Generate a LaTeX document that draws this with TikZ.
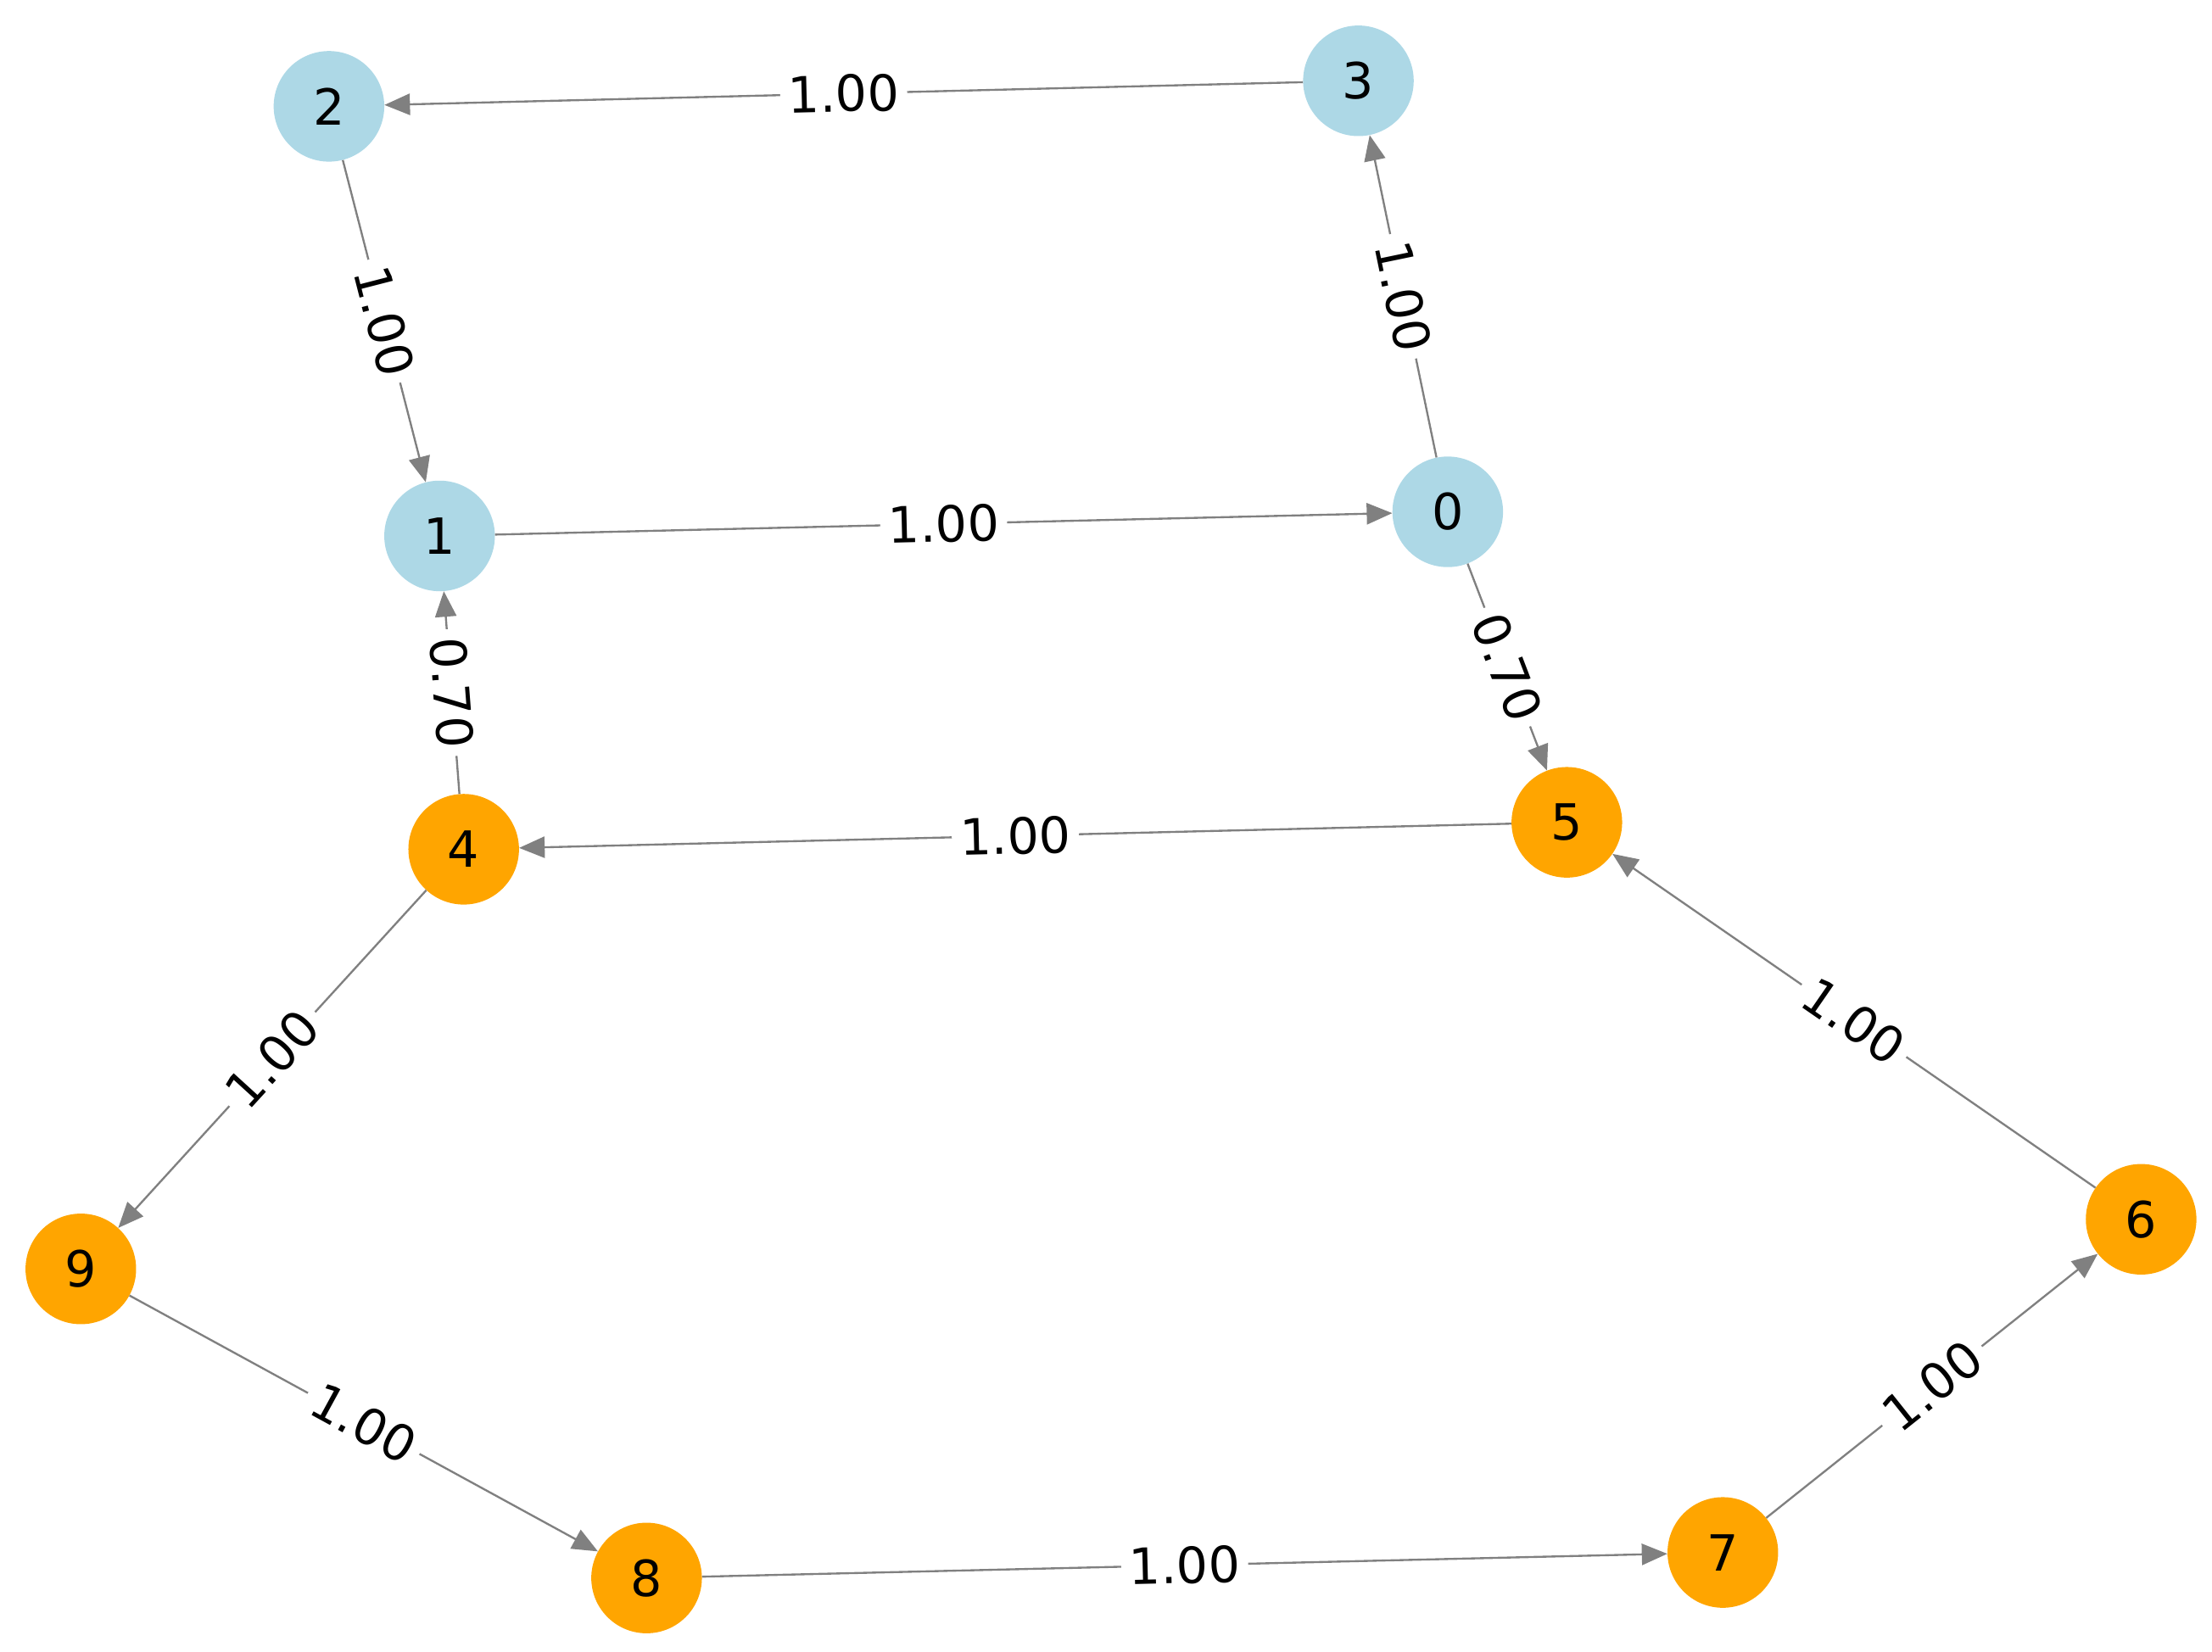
\documentclass[tikz,border=0pt]{standalone}
\usepackage{fontspec}
\setmainfont{DejaVu Sans}
\usetikzlibrary{arrows.meta}
\begin{document}
\begin{tikzpicture}[x=0.05cm,y=-0.05cm,
 nd/.style={circle,minimum size=3.9cm,inner sep=0pt,font=\fontsize{50}{58}\selectfont},
 blue/.style={nd,fill={rgb,255:red,173;green,216;blue,230}},
 org/.style={nd,fill={rgb,255:red,255;green,165;blue,0}},
 ed/.style={draw=gray,line width=2pt,-{Triangle[length=0.9cm,width=0.75cm,fill=gray]}},
 lb/.style={midway,sloped,fill=white,inner sep=8pt,font=\fontsize{50}{58}\selectfont}]
\useasboundingbox (0,0) rectangle (1560,1165);
\node[blue] (n0) at (1021,361) {0};
\node[blue] (n1) at (310,378) {1};
\node[blue] (n2) at (232,75) {2};
\node[blue] (n3) at (958,57) {3};
\node[org] (n4) at (327,599) {4};
\node[org] (n5) at (1105,580) {5};
\node[org] (n6) at (1510,860) {6};
\node[org] (n7) at (1215,1095) {7};
\node[org] (n8) at (456,1113) {8};
\node[org] (n9) at (57,895) {9};
\draw[ed] (n3) -- node[lb]{1.00} (n2);
\draw[ed] (n2) -- node[lb]{1.00} (n1);
\draw[ed] (n1) -- node[lb]{1.00} (n0);
\draw[ed] (n0) -- node[lb]{1.00} (n3);
\draw[ed] (n0) -- node[lb]{0.70} (n5);
\draw[ed] (n4) -- node[lb]{0.70} (n1);
\draw[ed] (n5) -- node[lb]{1.00} (n4);
\draw[ed] (n4) -- node[lb]{1.00} (n9);
\draw[ed] (n9) -- node[lb]{1.00} (n8);
\draw[ed] (n8) -- node[lb]{1.00} (n7);
\draw[ed] (n7) -- node[lb]{1.00} (n6);
\draw[ed] (n6) -- node[lb]{1.00} (n5);
\end{tikzpicture}
\end{document}
